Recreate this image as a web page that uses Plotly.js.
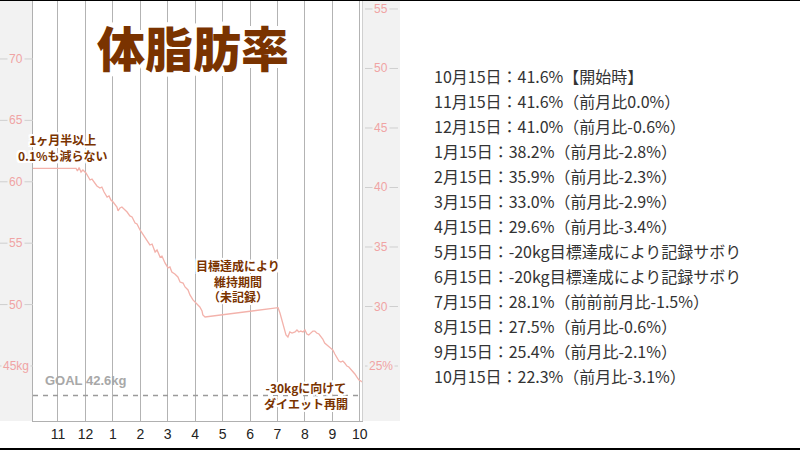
<!DOCTYPE html>
<html><head><meta charset="utf-8">
<script src="https://cdn.plot.ly/plotly-3.0.1.min.js"></script>
<style>html,body{margin:0;padding:0;background:#000;overflow:hidden}#c{position:absolute;left:0;top:1px;width:800px;height:447px;background:#fff}</style>
</head><body><div id="c"></div>
<script>
// month index: 0 = Oct 1 (start), 12 = Oct 1 next year
const months = [1,2,3,4,5,6,7,8,9,10,11,12];
const monthLabels = ['11','12','1','2','3','4','5','6','7','8','9','10'];

// body-fat %
const fatX = [0.09,1.66,1.71,1.77,1.84,1.91,2.02,2.09,2.17,2.24,2.35,2.42,2.53,2.60,2.68,2.79,2.86,2.93,3.01,3.08,3.15,3.19,3.26,3.33,3.41,3.52,3.62,3.70,3.81,3.88,3.99,4.06,4.17,4.24,4.35,4.43,4.54,4.61,4.72,4.79,4.90,5.01,5.08,5.15,5.26,5.37,5.45,5.56,5.63,5.74,5.81,5.92,6.03,6.10,6.17,6.25,6.28,6.36,9.02,9.09,9.16,9.20,9.27,9.31,9.38,9.45,9.53,9.64,9.71,9.78,9.85,9.93,10.00,10.07,10.14,10.22,10.29,10.36,10.43,10.51,10.58,10.65,10.72,10.80,10.87,10.94,11.02,11.09,11.16,11.24,11.31,11.38,11.45,11.53,11.60,11.67,11.75,11.82,11.89,11.97,12.04,12.07];
const fatY = [41.61,41.61,41.39,41.68,41.30,41.47,41.22,40.97,40.63,40.71,40.38,40.13,39.96,40.04,39.62,39.20,39.29,38.95,38.78,38.53,38.36,38.03,38.28,38.36,38.19,37.94,37.61,37.52,37.02,36.93,36.43,36.18,35.84,35.50,35.17,35.25,34.58,34.75,34.16,34.24,33.66,33.24,33.32,32.90,32.73,32.48,32.06,31.97,31.64,31.39,30.97,30.55,30.29,30.13,29.96,29.62,29.29,29.12,29.90,29.45,28.87,28.45,27.94,27.61,27.44,27.86,27.77,27.86,28.03,27.86,27.94,27.86,28.03,27.69,27.61,27.77,27.94,27.94,27.77,27.69,27.52,27.27,26.93,26.76,26.60,26.51,26.34,26.01,25.67,25.42,25.34,25.42,25.25,25.00,24.92,24.75,24.50,24.33,24.08,23.82,23.74,23.66];

const kgTicks = [45,50,55,60,65,70];
const kgLabels = ['45kg','50','55','60','65','70'];
const pctTicks = [25,30,35,40,45,50,55];
const pctLabels = ['25%','30','35','40','45','50','55'];
const goalKg = 42.6;
const goalLabel = 'GOAL 42.6kg';

const titleText = '体脂肪率';
const note1 = '1ヶ月半以上<br>0.1%も減らない';
const note2 = '目標達成により<br>維持期間<br>（未記録）';
const note3 = '-30kgに向けて<br>ダイエット再開';

const listLines = [
 '10月15日：41.6%【開始時】',
 '11月15日：41.6%（前月比0.0%）',
 '12月15日：41.0%（前月比-0.6%）',
 '1月15日：38.2%（前月比-2.8%）',
 '2月15日：35.9%（前月比-2.3%）',
 '3月15日：33.0%（前月比-2.9%）',
 '4月15日：29.6%（前月比-3.4%）',
 '5月15日：-20kg目標達成により記録サボり',
 '6月15日：-20kg目標達成により記録サボり',
 '7月15日：28.1%（前前前月比-1.5%）',
 '8月15日：27.5%（前月比-0.6%）',
 '9月15日：25.4%（前月比-2.1%）',
 '10月15日：22.3%（前月比-3.1%）'
];

const JP = '"Noto Sans CJK JP", "Noto Sans", sans-serif';
const BROWN = '#7a3300';
const halo = r => [[-r,-r],[r,-r],[-r,r],[r,r],[0,r],[0,-r],[r,0],[-r,0],[-r/2,r],[r/2,-r],[r,r/2],[-r,-r/2]].map(o=>o[0]+'px '+o[1]+'px 0 #fff').join(', ');

// plot geometry (pixels in the 800x447 div)
const L = 33, R = 362, PW = R - L, PH = 420;
const px2paperX = p => (p - L) / PW;
const px2paperY = p => (PH - p) / PH;

const shapes = [];
shapes.push({type:'rect', xref:'paper', yref:'paper', x0:px2paperX(0), x1:0, y0:0, y1:1, fillcolor:'#f2f2f2', line:{width:0}, layer:'below'});
shapes.push({type:'rect', xref:'paper', yref:'paper', x0:1, x1:px2paperX(400), y0:0, y1:1, fillcolor:'#f2f2f2', line:{width:0}, layer:'below'});
kgTicks.forEach(v => shapes.push({type:'line', xref:'paper', yref:'y', x0:px2paperX(0), x1:0, y0:v, y1:v, line:{color:'#cfcfcf', width:1}}));
pctTicks.forEach(v => shapes.push({type:'line', xref:'paper', yref:'y2', x0:px2paperX(365), x1:px2paperX(398), y0:v, y1:v, line:{color:'#cfcfcf', width:1}}));
shapes.push({type:'line', xref:'paper', yref:'y', x0:0, x1:1, y0:goalKg, y1:goalKg, line:{color:'#9a9a9a', width:1.5, dash:'5px,5px'}});

const annotations = [];
kgTicks.forEach((v,i) => annotations.push({xref:'paper', yref:'y', x:px2paperX(16), y:v, xanchor:'center', yanchor:'middle', text:kgLabels[i], showarrow:false, bgcolor:'#f2f2f2', borderpad:1, font:{family:'"Liberation Sans", Arial, sans-serif', size:12, color:'#f0a4a4'}}));
pctTicks.forEach((v,i) => annotations.push({xref:'paper', yref:'y2', x:px2paperX(381), y:v, xanchor:'center', yanchor:'middle', text:pctLabels[i], showarrow:false, bgcolor:'#f2f2f2', borderpad:1, font:{family:'"Liberation Sans", Arial, sans-serif', size:12, color:'#f0a4a4'}}));
annotations.push({xref:'paper', yref:'y', x:px2paperX(43), y:goalKg, yshift:15, xanchor:'left', yanchor:'middle', text:goalLabel, showarrow:false, font:{family:'"Liberation Sans", Arial, sans-serif', size:13, color:'#a8a8a8', weight:700}});
annotations.push({xref:'paper', yref:'paper', x:px2paperX(193), y:px2paperY(45), xanchor:'center', yanchor:'middle', text:titleText, showarrow:false, font:{family:JP, size:48, color:BROWN, weight:900, shadow:halo(4)}});
annotations.push({xref:'paper', yref:'paper', x:px2paperX(63), y:px2paperY(146), xanchor:'center', yanchor:'middle', text:note1, showarrow:false, font:{family:JP, size:12, color:BROWN, weight:700, shadow:halo(2)}});
annotations.push({xref:'paper', yref:'paper', x:px2paperX(238), y:px2paperY(280), xanchor:'center', yanchor:'middle', text:note2, showarrow:false, font:{family:JP, size:12, color:BROWN, weight:700, shadow:halo(2)}});
annotations.push({xref:'paper', yref:'paper', x:px2paperX(306), y:px2paperY(394), xanchor:'center', yanchor:'middle', text:note3, showarrow:false, font:{family:JP, size:12, color:BROWN, weight:700, shadow:halo(2)}});
listLines.forEach((t,i) => annotations.push({xref:'paper', yref:'paper', x:px2paperX(432), y:px2paperY(75 + 25*i), xanchor:'left', yanchor:'middle', text:t, showarrow:false, font:{family:JP, size:16, color:'#333'}}));

const data = [
 {x:[], y:[], xaxis:'x', yaxis:'y', type:'scatter', mode:'lines', showlegend:false, hoverinfo:'skip'},
 {x:fatX, y:fatY, xaxis:'x', yaxis:'y2', type:'scatter', mode:'lines', line:{color:'#f3b2ab', width:1.3}, showlegend:false}
];

const layout = {
 width:800, height:447,
 margin:{l:L, r:800-R, t:0, b:447-PH},
 paper_bgcolor:'#fff', plot_bgcolor:'#fff',
 showlegend:false,
 xaxis:{range:[0.09,12.08], tickvals:months, ticktext:monthLabels, showgrid:true, gridcolor:'#b3b3b3', gridwidth:1, showline:true, linecolor:'#b0b0b0', ticks:'', zeroline:false, tickfont:{family:'"Liberation Sans", Arial, sans-serif', size:14, color:'#222'}, fixedrange:true},
 yaxis:{range:[40.52,74.72], showgrid:false, showticklabels:false, ticks:'', showline:true, linecolor:'#b0b0b0', zeroline:false, fixedrange:true},
 yaxis2:{range:[20.38,55.67], overlaying:'y', side:'right', showgrid:false, showticklabels:false, ticks:'', showline:true, linecolor:'#d0d0d0', zeroline:false, fixedrange:true},
 shapes:shapes,
 annotations:annotations
};
Plotly.newPlot('c', data, layout, {staticPlot:true, displayModeBar:false});
</script></body></html>
